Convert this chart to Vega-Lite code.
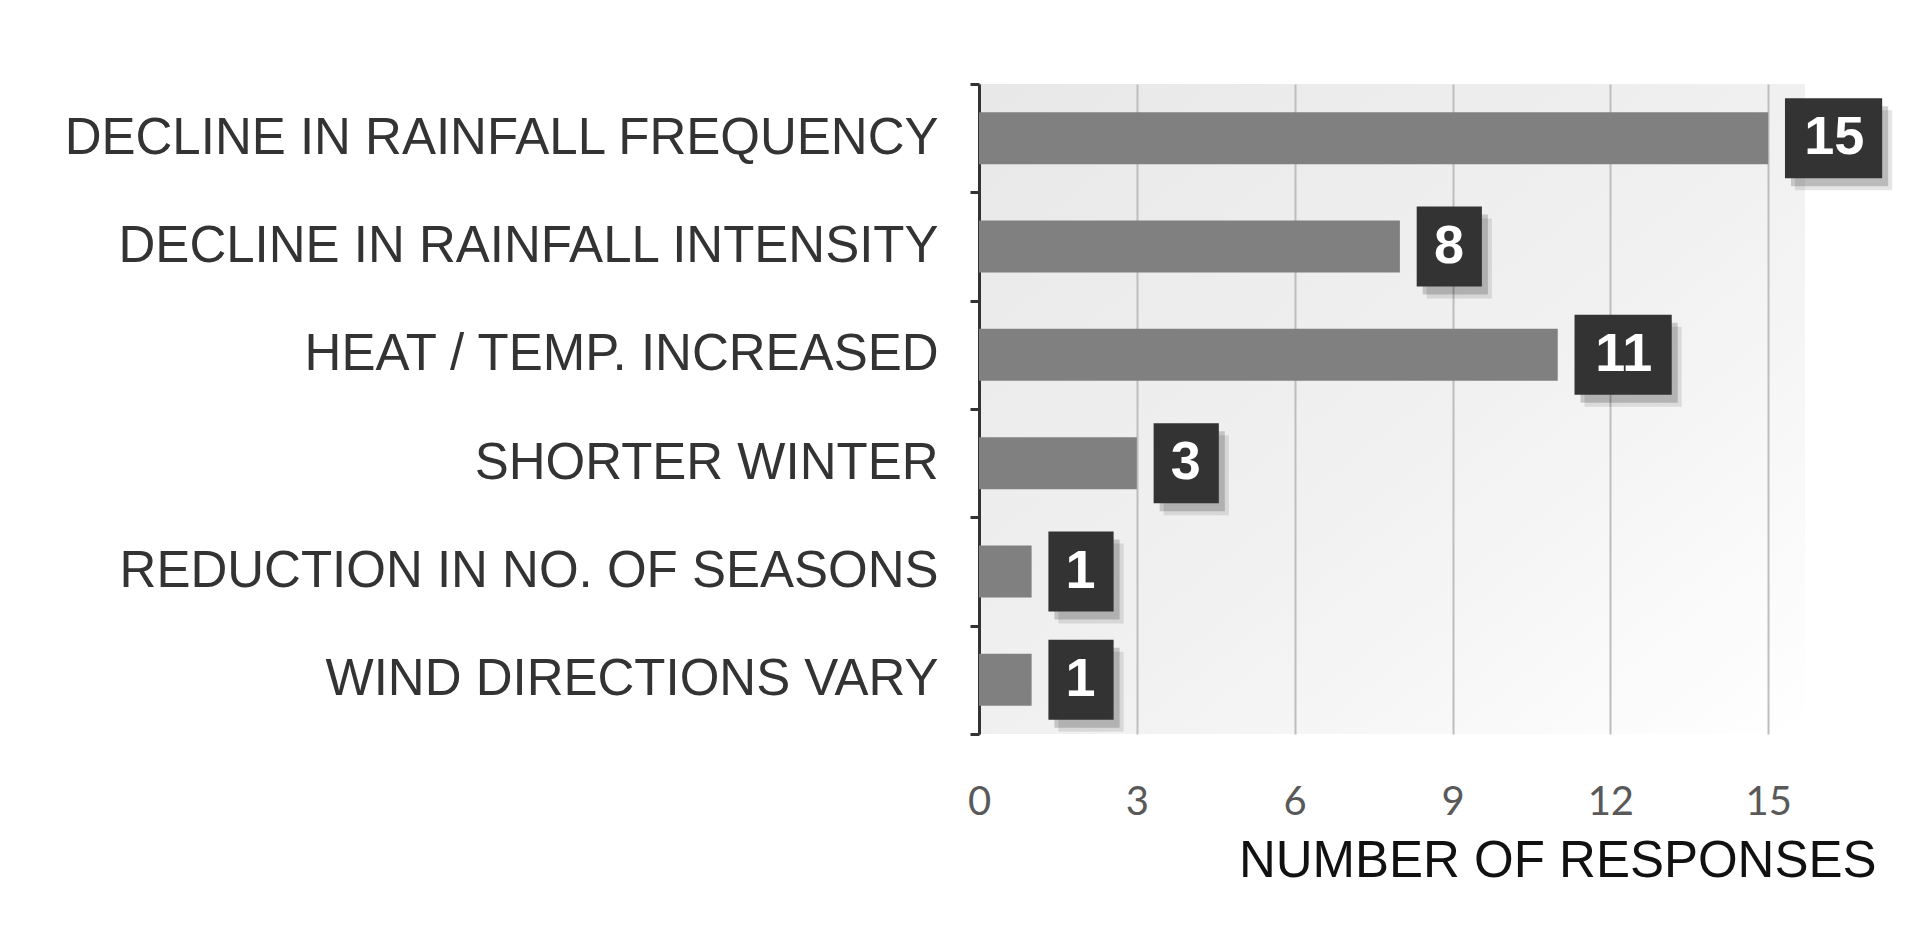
{
  "$schema": "https://vega.github.io/schema/vega-lite/v6.json",
  "autosize": {"type": "none"},
  "padding": {"left": 979, "top": 84, "right": 121, "bottom": 208},
  "width": 826,
  "height": 650,
  "background": "white",
  "config": {
    "view": {
      "stroke": null,
      "fill": {
        "gradient": "linear", "x1": 0, "y1": 0, "x2": 1, "y2": 1,
        "stops": [
          {"offset": 0, "color": "#e8e8e8"},
          {"offset": 0.55, "color": "#f1f1f1"},
          {"offset": 1, "color": "#ffffff"}
        ]
      }
    }
  },
  "data": {
    "values": [
      {"category": "DECLINE IN RAINFALL FREQUENCY", "count": 15},
      {"category": "DECLINE IN RAINFALL INTENSITY", "count": 8},
      {"category": "HEAT / TEMP. INCREASED", "count": 11},
      {"category": "SHORTER WINTER", "count": 3},
      {"category": "REDUCTION IN NO. OF SEASONS", "count": 1},
      {"category": "WIND DIRECTIONS VARY", "count": 1}
    ]
  },
  "encoding": {
    "y": {
      "field": "category", "type": "nominal", "sort": null,
      "scale": {"paddingInner": 0, "paddingOuter": 0},
      "axis": {
        "title": null,
        "tickBand": "extent",
        "labelFont": "Liberation Sans", "labelFontSize": 51, "labelColor": "#333333",
        "labelLimit": 2000, "labelPadding": 32,
        "domainColor": "#333333", "domainWidth": 3,
        "tickColor": "#333333", "tickWidth": 3, "tickSize": 9
      }
    },
    "x": {
      "field": "count", "type": "quantitative",
      "scale": {"domain": [0, 15.7], "nice": false},
      "axis": {
        "values": [0, 3, 6, 9, 12, 15],
        "title": "NUMBER OF RESPONSES",
        "titleFont": "Liberation Sans", "titleFontSize": 51, "titleFontWeight": "normal", "titleColor": "#111111",
        "titleX": 897, "titleY": 127, "titleAlign": "right", "titleBaseline": "middle", "titleAnchor": null,
        "labelFont": "Lato", "labelFontSize": 40, "labelColor": "#595959",
        "labelPadding": 68, "labelBaseline": "middle", "labelFlush": false,
        "domain": false, "ticks": false,
        "grid": true, "gridColor": "#bdbdbd", "gridWidth": 2
      }
    }
  },
  "layer": [
    {"mark": {"type": "bar", "color": "#808080", "height": {"band": 0.48}}},
    {
      "transform": [{"filter": "datum.count < 10"}],
      "mark": {"type": "point", "shape": "M0.42,-1H2.05V1H0.42Z", "size": 6400, "filled": true, "color": "#000000", "opacity": 0.1, "xOffset": 10, "yOffset": 12}
    },
    {
      "transform": [{"filter": "datum.count >= 10"}],
      "mark": {"type": "point", "shape": "M0.42,-1H2.85V1H0.42Z", "size": 6400, "filled": true, "color": "#000000", "opacity": 0.1, "xOffset": 10, "yOffset": 12}
    },
    {
      "transform": [{"filter": "datum.count < 10"}],
      "mark": {"type": "point", "shape": "M0.42,-1H2.05V1H0.42Z", "size": 6400, "filled": true, "color": "#000000", "opacity": 0.18, "xOffset": 6, "yOffset": 8}
    },
    {
      "transform": [{"filter": "datum.count >= 10"}],
      "mark": {"type": "point", "shape": "M0.42,-1H2.85V1H0.42Z", "size": 6400, "filled": true, "color": "#000000", "opacity": 0.18, "xOffset": 6, "yOffset": 8}
    },
    {
      "transform": [{"filter": "datum.count < 10"}],
      "mark": {"type": "point", "shape": "M0.42,-1H2.05V1H0.42Z", "size": 6400, "filled": true, "color": "#333333", "opacity": 1}
    },
    {
      "transform": [{"filter": "datum.count >= 10"}],
      "mark": {"type": "point", "shape": "M0.42,-1H2.85V1H0.42Z", "size": 6400, "filled": true, "color": "#333333", "opacity": 1}
    },
    {
      "transform": [{"filter": "datum.count < 10"}],
      "mark": {"type": "text", "align": "center", "baseline": "middle", "dx": 49, "font": "Liberation Sans", "fontWeight": "bold", "fontSize": 54, "color": "white"},
      "encoding": {"text": {"field": "count", "type": "quantitative"}}
    },
    {
      "transform": [{"filter": "datum.count >= 10"}],
      "mark": {"type": "text", "align": "center", "baseline": "middle", "dx": 66, "font": "Liberation Sans", "fontWeight": "bold", "fontSize": 54, "color": "white"},
      "encoding": {"text": {"field": "count", "type": "quantitative"}}
    }
  ]
}
